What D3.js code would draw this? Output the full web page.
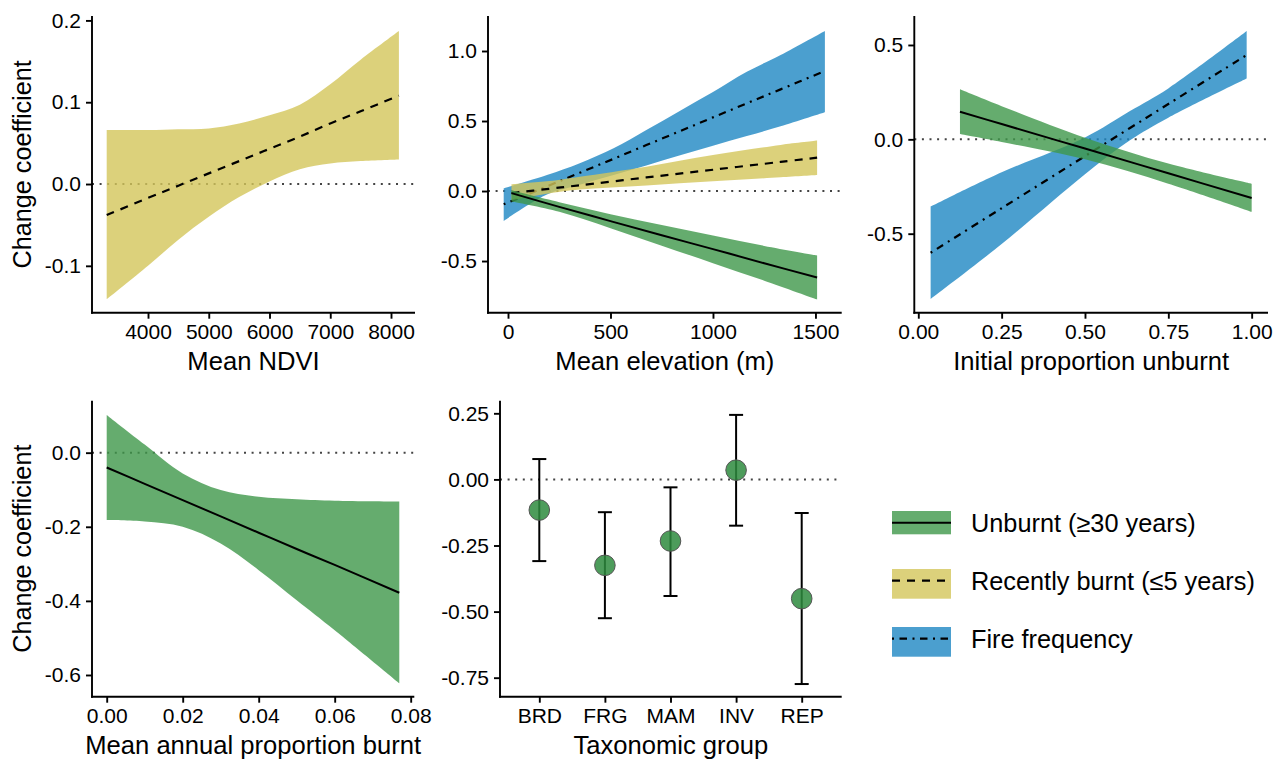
<!DOCTYPE html>
<html><head><meta charset="utf-8">
<script src="https://cdn.jsdelivr.net/npm/d3@7"></script>
<style>body{margin:0;background:#fff}text{font-family:"Liberation Sans",Arial,Helvetica,sans-serif;fill:#000}</style>
</head><body>
<script>
// ---------------- DATA ----------------
// Panel 1: Mean NDVI (recently burnt)
const ndviX     = [3320, 4000, 4500, 5000, 5500, 6000, 6500, 7000, 7500, 8130];
const ndviMean  = [-0.038, -0.017, -0.002, 0.013, 0.028, 0.043, 0.058, 0.074, 0.089, 0.108];
const ndviUpper = [0.066, 0.066, 0.067, 0.068, 0.074, 0.084, 0.097, 0.122, 0.152, 0.187];
const ndviLower = [-0.141, -0.100, -0.068, -0.040, -0.016, 0.003, 0.018, 0.025, 0.028, 0.030];
const ndviXTicks = [4000, 5000, 6000, 7000, 8000];
const ndviYTicks = [-0.1, 0.0, 0.1, 0.2];

// Panel 2: Mean elevation
const elevUnbX     = [17, 250, 500, 750, 1000, 1250, 1508];
const elevUnbMean  = [-0.015, -0.113, -0.215, -0.316, -0.415, -0.516, -0.617];
const elevUnbUpper = [0.005, -0.080, -0.165, -0.242, -0.318, -0.392, -0.460];
const elevUnbLower = [-0.075, -0.148, -0.265, -0.390, -0.515, -0.640, -0.774];
const elevRecX     = [17, 200, 350, 675, 1000, 1330, 1508];
const elevRecMean  = [-0.015, 0.016, 0.041, 0.097, 0.152, 0.208, 0.238];
const elevRecUpper = [0.048, 0.071, 0.102, 0.174, 0.257, 0.329, 0.360];
const elevRecLower = [-0.064, -0.017, 0.010, 0.040, 0.070, 0.098, 0.114];
const elevFireX     = [-21, 190, 350, 515, 675, 840, 1000, 1165, 1330, 1546];
const elevFireMean  = [-0.095, 0.033, 0.130, 0.230, 0.328, 0.428, 0.526, 0.626, 0.726, 0.857];
const elevFireUpper = [0.019, 0.114, 0.198, 0.305, 0.436, 0.574, 0.707, 0.852, 0.971, 1.143];
const elevFireLower = [-0.214, -0.025, 0.045, 0.114, 0.183, 0.255, 0.324, 0.393, 0.462, 0.562];
const elevXTicks = [0, 500, 1000, 1500];
const elevYTicks = [-0.5, 0.0, 0.5, 1.0];

// Panel 3: Initial proportion unburnt
const ipuUnbX     = [0.125, 0.25, 0.5, 0.75, 1.0];
const ipuUnbMean  = [0.146, 0.081, -0.049, -0.180, -0.311];
const ipuUnbUpper = [0.265, 0.176, 0.009, -0.128, -0.235];
const ipuUnbLower = [0.028, -0.014, -0.106, -0.235, -0.384];
const ipuFireX     = [0.037, 0.25, 0.5, 0.635, 0.75, 0.985];
const ipuFireMean  = [-0.601, -0.365, -0.089, 0.060, 0.187, 0.447];
const ipuFireUpper = [-0.357, -0.175, 0.010, 0.150, 0.270, 0.574];
const ipuFireLower = [-0.846, -0.555, -0.185, -0.005, 0.115, 0.323];
const ipuXTicks = [0, 0.25, 0.5, 0.75, 1.0];
const ipuYTicks = [-0.5, 0.0, 0.5];

// Panel 4: Mean annual proportion burnt (unburnt)
const mapbX     = [0, 0.01, 0.02, 0.03, 0.04, 0.05, 0.06, 0.077];
const mapbMean  = [-0.040, -0.084, -0.128, -0.172, -0.216, -0.260, -0.303, -0.378];
const mapbUpper = [0.102, 0.022, -0.056, -0.101, -0.119, -0.126, -0.130, -0.132];
const mapbLower = [-0.182, -0.186, -0.200, -0.245, -0.317, -0.398, -0.479, -0.622];
const mapbXTicks = [0, 0.02, 0.04, 0.06, 0.08];
const mapbYTicks = [-0.6, -0.4, -0.2, 0.0];

// Panel 5: Taxonomic group
const taxa     = ["BRD", "FRG", "MAM", "INV", "REP"];
const taxaEst  = [-0.116, -0.325, -0.233, 0.035, -0.451];
const taxaLow  = [-0.309, -0.525, -0.441, -0.175, -0.774];
const taxaHigh = [0.077, -0.124, -0.030, 0.244, -0.127];
const taxaYTicks = [-0.75, -0.5, -0.25, 0.0, 0.25];

// Legend
const legendLabels = ["Unburnt (\u226530 years)", "Recently burnt (\u22645 years)", "Fire frequency"];

// ---------------- STYLE ----------------
const COL = {unb: "#3F974A", rec: "#D3C65A", fire: "#1E87C3"};
const DASH = {unb: null, rec: "8 7", fire: "2 5.5 7.5 5.5"};
const BAND_OP = 0.8;

const W = 1275, H = 759;
const svg = d3.select("body").append("svg").attr("width", W).attr("height", H);
svg.append("rect").attr("width", W).attr("height", H).attr("fill", "#fff");

function makePanel(p) {
  const g = svg.append("g");
  const x = p.x || d3.scaleLinear().domain(p.xdom).range([p.x0, p.x1]);
  const y = d3.scaleLinear().domain(p.ydom).range([p.y1, p.y0]);
  g.append("line").attr("x1", p.x0).attr("x2", p.x1).attr("y1", y(0)).attr("y2", y(0))
    .attr("stroke", "#444").attr("stroke-width", 2).attr("stroke-dasharray", "2 5.6");
  return {g, x, y, p};
}

function drawAxes(P, xTicks, xFmt, yTicks, yFmt, xTitle, yTitle) {
  const {g, x, y, p} = P;
  const ax = g.append("g").attr("transform", `translate(0,${p.y1})`)
    .call(d3.axisBottom(x).tickValues(xTicks).tickFormat(xFmt).tickSize(6).tickPadding(5).tickSizeOuter(0));
  const ay = g.append("g").attr("transform", `translate(${p.x0},0)`)
    .call(d3.axisLeft(y).tickValues(yTicks).tickFormat(yFmt).tickSize(6).tickPadding(5).tickSizeOuter(0));
  [ax, ay].forEach(a => {
    a.select(".domain").remove();
    a.selectAll(".tick line").attr("stroke", "#000").attr("stroke-width", 1.9);
    a.selectAll(".tick text").style("font-size", "21px").attr("fill", "#000")
      .style("font-family", '"Liberation Sans",Arial,Helvetica,sans-serif');
  });
  g.append("line").attr("x1", p.x0).attr("x2", p.x0).attr("y1", p.y0).attr("y2", p.y1 + 0.95)
    .attr("stroke", "#000").attr("stroke-width", 1.9);
  g.append("line").attr("x1", p.x0 - 0.95).attr("x2", p.x1).attr("y1", p.y1).attr("y2", p.y1)
    .attr("stroke", "#000").attr("stroke-width", 1.9);
  g.append("text").attr("x", (p.x0 + p.x1) / 2).attr("y", p.y1 + 57).attr("text-anchor", "middle")
    .style("font-size", "25.6px").text(xTitle);
  if (yTitle) {
    g.append("text").attr("transform", `translate(31,${(p.y0 + p.y1) / 2}) rotate(-90)`)
      .attr("text-anchor", "middle").style("font-size", "25.2px").text(yTitle);
  }
}

function drawSeries(P, xs, mean, up, lo, key) {
  const {g, x, y} = P;
  const pts = xs.map((v, i) => ({x: v, m: mean[i], u: up[i], l: lo[i]}));
  const area = d3.area().x(d => x(d.x)).y0(d => y(d.l)).y1(d => y(d.u)).curve(d3.curveCatmullRom);
  g.append("path").datum(pts).attr("d", area).attr("fill", COL[key]).attr("fill-opacity", BAND_OP);
  const line = d3.line().x(d => x(d.x)).y(d => y(d.m)).curve(d3.curveCatmullRom);
  const l = g.append("path").datum(pts).attr("d", line).attr("fill", "none")
    .attr("stroke", "#000").attr("stroke-width", key === "unb" ? 2 : 2.2);
  if (DASH[key]) l.attr("stroke-dasharray", DASH[key]);
}

const f1 = v => v.toFixed(1), f2 = v => v.toFixed(2), f0 = v => String(v);

// Panel 1
const P1 = makePanel({x0: 92, x1: 415, y0: 16, y1: 312.7, xdom: [3078, 8395], ydom: [-0.1573, 0.2054]});
drawSeries(P1, ndviX, ndviMean, ndviUpper, ndviLower, "rec");
drawAxes(P1, ndviXTicks, f0, ndviYTicks, f1, "Mean NDVI", "Change coefficient");

// Panel 2
const P2 = makePanel({x0: 488, x1: 841.7, y0: 16, y1: 312.7, xdom: [-97.6, 1628], ydom: [-0.869, 1.25]});
drawSeries(P2, elevFireX, elevFireMean, elevFireUpper, elevFireLower, "fire");
drawSeries(P2, elevRecX, elevRecMean, elevRecUpper, elevRecLower, "rec");
drawSeries(P2, elevUnbX, elevUnbMean, elevUnbUpper, elevUnbLower, "unb");
drawAxes(P2, elevXTicks, f0, elevYTicks, f1, "Mean elevation (m)", null);

// Panel 3
const P3 = makePanel({x0: 914.3, x1: 1268, y0: 16, y1: 312.7, xdom: [-0.012, 1.049], ydom: [-0.9187, 0.6536]});
drawSeries(P3, ipuFireX, ipuFireMean, ipuFireUpper, ipuFireLower, "fire");
drawSeries(P3, ipuUnbX, ipuUnbMean, ipuUnbUpper, ipuUnbLower, "unb");
drawAxes(P3, ipuXTicks, f2, ipuYTicks, f1, "Initial proportion unburnt", null);

// Panel 4
const P4 = makePanel({x0: 92, x1: 414.3, y0: 400.7, y1: 696.7, xdom: [-0.00387, 0.08095], ydom: [-0.6586, 0.1403]});
drawSeries(P4, mapbX, mapbMean, mapbUpper, mapbLower, "unb");
drawAxes(P4, mapbXTicks, f2, mapbYTicks, f1, "Mean annual proportion burnt", "Change coefficient");

// Panel 5
const x5 = d3.scalePoint().domain(taxa).range([539.3, 801.7]);
const P5 = makePanel({x: x5, x0: 500, x1: 841.7, y0: 400.7, y1: 696.7, ydom: [-0.8219, 0.2977]});
{
  const {g, x, y} = P5;
  const data = taxa.map((t, i) => ({t, e: taxaEst[i], lo: taxaLow[i], hi: taxaHigh[i]}));
  const eb = g.selectAll(".eb").data(data).enter().append("g");
  eb.append("line").attr("x1", d => x(d.t)).attr("x2", d => x(d.t)).attr("y1", d => y(d.lo)).attr("y2", d => y(d.hi))
    .attr("stroke", "#000").attr("stroke-width", 2);
  eb.append("line").attr("x1", d => x(d.t) - 7).attr("x2", d => x(d.t) + 7).attr("y1", d => y(d.lo)).attr("y2", d => y(d.lo))
    .attr("stroke", "#000").attr("stroke-width", 2);
  eb.append("line").attr("x1", d => x(d.t) - 7).attr("x2", d => x(d.t) + 7).attr("y1", d => y(d.hi)).attr("y2", d => y(d.hi))
    .attr("stroke", "#000").attr("stroke-width", 2);
  eb.append("circle").attr("cx", d => x(d.t)).attr("cy", d => y(d.e)).attr("r", 10.3)
    .attr("fill", "#2E8B3E").attr("fill-opacity", 0.85).attr("stroke", "#555").attr("stroke-width", 1);
}
drawAxes(P5, taxa, f0, taxaYTicks, f2, "Taxonomic group", null);

// Legend
const legKeys = ["unb", "rec", "fire"];
const legY = [522.7, 580.7, 638.7];
const legH = [[11.7, 11.6], [11.7, 18], [11.7, 18]];
const lg = svg.append("g");
legKeys.forEach((k, i) => {
  lg.append("rect").attr("x", 892).attr("y", legY[i] - legH[i][0]).attr("width", 59)
    .attr("height", legH[i][0] + legH[i][1]).attr("fill", COL[k]).attr("fill-opacity", BAND_OP);
  const l = lg.append("line").attr("x1", 892).attr("x2", 951).attr("y1", legY[i]).attr("y2", legY[i])
    .attr("stroke", "#000").attr("stroke-width", k === "unb" ? 2 : 2.2);
  if (DASH[k]) l.attr("stroke-dasharray", DASH[k]);
  lg.append("text").attr("x", 971).attr("y", legY[i] + 9).style("font-size", "25.3px").text(legendLabels[i]);
});
</script>
</body></html>
